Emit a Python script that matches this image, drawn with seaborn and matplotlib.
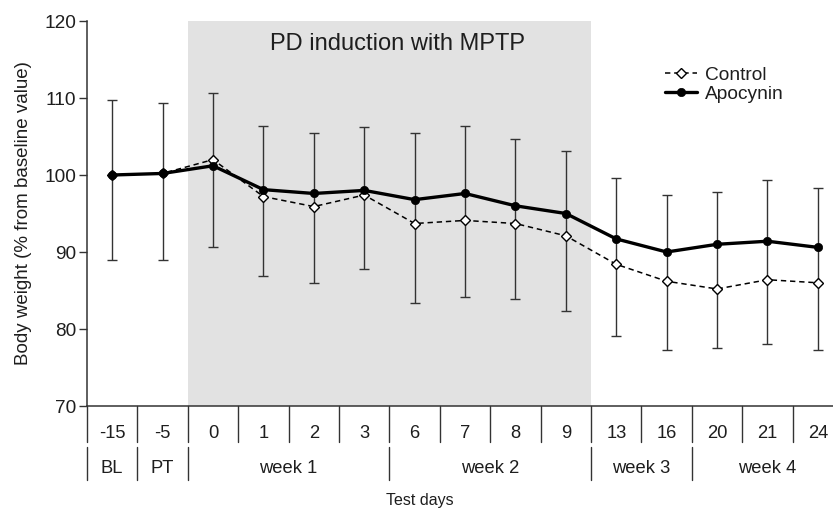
import matplotlib
matplotlib.use("Agg")
import matplotlib.pyplot as plt
import seaborn as sns
import numpy as np
import pandas as pd

# ---- data ----
days = ["-15", "-5", "0", "1", "2", "3", "6", "7", "8", "9", "13", "16", "20", "21", "24"]
control = [100.0, 100.2, 102.0, 97.2, 95.9, 97.4, 93.7, 94.1, 93.7, 92.1, 88.4, 86.2, 85.2, 86.4, 86.0]
apocynin = [100.0, 100.2, 101.2, 98.1, 97.6, 98.0, 96.8, 97.6, 96.0, 95.0, 91.7, 90.0, 91.0, 91.4, 90.6]
apocynin_sd = [9.7, 9.2, 9.4, 8.3, 7.9, 8.2, 8.7, 8.8, 8.7, 8.1, 7.9, 7.4, 6.8, 8.0, 7.7]
control_sd = [11.1, 11.2, 11.4, 10.3, 9.9, 9.6, 10.3, 9.9, 9.8, 9.8, 9.3, 8.9, 7.7, 8.3, 8.7]
periods = ["BL", "PT", "week 1", "week 2", "week 3", "week 4"]
period_sizes = [1, 1, 4, 4, 2, 3]
shade_label = "PD induction with MPTP"

sns.set_theme(style="ticks")
plt.rcParams["font.family"] = ["Liberation Sans", "DejaVu Sans"]

df = pd.DataFrame({"pos": np.arange(len(days)), "day": days,
                   "Control": control, "Apocynin": apocynin,
                   "c_sd": control_sd, "a_sd": apocynin_sd})

fig = plt.figure(figsize=(8.33, 5.11), dpi=100)
W, H = 833, 511
ax = fig.add_axes([87 / W, (H - 406) / H, (833 - 87) / W, (406 - 21) / H])

txt = "#1e1e1e"
# shaded MPTP period
ax.axvspan(1.5, 9.5, color="#e2e2e2", lw=0, zorder=0)
ax.text(5.66, 117.0, shade_label, ha="center", va="center", fontsize=17, color=txt)

# error bars: lower from control SD, upper from apocynin SD
lower = df["Control"] - df["c_sd"]
upper = df["Apocynin"] + df["a_sd"]
ax.errorbar(df["pos"], df["Control"],
            yerr=[df["Control"] - lower, upper - df["Control"]],
            fmt="none", ecolor="#333333", elinewidth=1.0, capsize=3.7, capthick=1.0, zorder=2)

sns.lineplot(data=df, x="pos", y="Control", ax=ax, color="black", lw=1.1,
             linestyle=(0, (3.5, 2.5)), marker="D", markersize=5.5,
             markerfacecolor="white", markeredgecolor="black", markeredgewidth=1.0,
             label="Control", zorder=3)
sns.lineplot(data=df, x="pos", y="Apocynin", ax=ax, color="black", lw=2.4,
             marker="o", markersize=6, markeredgecolor="black", markeredgewidth=0.5,
             label="Apocynin", zorder=4)

ax.set_xlim(-0.5, 14.3)
ax.set_ylim(70, 120)
ax.set_yticks([70, 80, 90, 100, 110, 120])
ax.tick_params(axis="y", labelsize=13.7, length=6, width=1.0, colors="#333333", labelcolor=txt, pad=2)
ax.set_xticks([])
ax.set_xlabel("")
ax.set_ylabel("Body weight (% from baseline value)", fontsize=13.5, color=txt, labelpad=9)
sns.despine(ax=ax)
for s in ["left", "bottom"]:
    ax.spines[s].set_color("#333333")
    ax.spines[s].set_linewidth(1.1)

# table of days below the axis
tr = ax.get_xaxis_transform()
ah = 406 - 21
def fy(py):
    return (406 - py) / ah

for i, d in enumerate(days):
    ax.text(i, fy(433), d, transform=tr, ha="center", va="center", fontsize=13.2, color=txt)
for b in np.arange(-0.5, 14.6, 1.0):
    ax.plot([b, b], [fy(406), fy(442)], transform=tr, color="#333333", lw=1.0, clip_on=False)

start = -0.5
for lab, n in zip(periods, period_sizes):
    ax.plot([start, start], [fy(447), fy(480)], transform=tr, color="#333333", lw=1.0, clip_on=False)
    ax.text(start + n / 2, fy(468), lab, transform=tr, ha="center", va="center", fontsize=13.2, color=txt)
    start += n

ax.text((420 - 87) / (833 - 87), fy(500), "Test days",
        transform=ax.transAxes, ha="center", va="center", fontsize=11.5, color=txt)

leg = ax.legend(loc="upper left", bbox_to_anchor=((655 - 87) / (833 - 87), fy(57)),
                frameon=False, fontsize=13.8, handlelength=1.7, handletextpad=0.4,
                borderpad=0, labelspacing=0.08)
for t in leg.get_texts():
    t.set_color(txt)

fig.savefig("out.png", dpi=100)
